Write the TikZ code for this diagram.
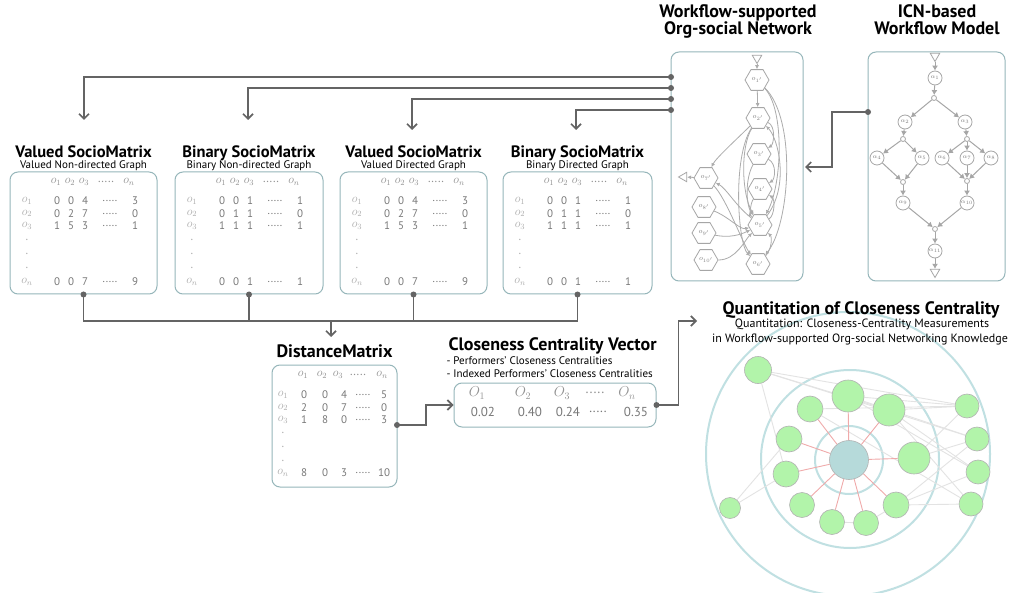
\documentclass[tikz,border=0pt]{standalone}
\usepackage{fontspec}
\setmainfont{PT Sans}
\usetikzlibrary{arrows.meta,shapes.geometric,positioning}

\definecolor{boxline}{RGB}{150,182,186}
\definecolor{wire}{RGB}{100,100,100}
\definecolor{ink}{RGB}{120,120,120}
\definecolor{ring}{RGB}{192,224,226}
\definecolor{leaf}{RGB}{178,244,170}
\definecolor{hub}{RGB}{182,218,218}
\definecolor{redtie}{RGB}{240,170,170}

\pgfdeclarelayer{background}
\pgfsetlayers{background,main}

\newcommand{\mdots}{.....}
% one socio matrix body: left edge, then the rows o_1, o_2, o_3, o_n
\newcommand{\socio}[5]{%
  \foreach \t/\x in {{$o_1$}/46,{$o_2$}/60,{$o_3$}/74,\mdots/96,{$o_n$}/119}
    \node[hdr] at ({#1+\x},182) {\t};
  \foreach \lab/\y/\a/\b/\c/\d in {1/201/#2,2/213.5/#3,3/226/#4,n/282/#5} {
    \node[rowlab] at ({#1+17},\y) {$o_{\lab}$};
    \node[num] at ({#1+47},\y) {\a};
    \node[num] at ({#1+61},\y) {\b};
    \node[num] at ({#1+75},\y) {\c};
    \node[num] at ({#1+100},\y) {\mdots};
    \node[num] at ({#1+125},\y) {\d};
  }
  \foreach \y in {240,254,268}
    \node[rowlab] at ({#1+17},\y) {.};
}

\begin{document}
\begin{tikzpicture}[x=1pt,y=-1pt,
  mbox/.style={draw=boxline,line width=1pt,rounded corners=8pt,fill=white},
  title/.style={font=\bfseries\fontsize{18}{20}\selectfont,anchor=base},
  mtitle/.style={title,font=\bfseries\fontsize{16.5}{18}\selectfont},
  subt/.style={font=\fontsize{11}{12}\selectfont,anchor=base},
  hdr/.style={text=ink!80,font=\fontsize{12}{12}\selectfont,inner sep=0},
  rowlab/.style={text=ink!60,font=\fontsize{12}{12}\selectfont,inner sep=0},
  num/.style={text=ink,font=\fontsize{11}{11}\selectfont,inner sep=0},
  wire/.style={draw=wire,line width=1.7pt},
  flow/.style={wire,-{Straight Barb[length=5pt,width=10pt]}},
  dot/.style={circle,fill=wire,inner sep=0,minimum size=6pt},
  perf/.style={regular polygon,regular polygon sides=6,draw=gray!70,line width=0.8pt,
    minimum size=24pt,inner sep=0,text=gray,font=\fontsize{7}{7}\selectfont},
  act/.style={circle,draw=gray!70,line width=0.8pt,minimum size=14pt,inner sep=0,
    text=gray,font=\fontsize{6}{6}\selectfont},
  gate/.style={circle,draw=gray!70,line width=0.8pt,minimum size=5pt,inner sep=0},
  term/.style={regular polygon,regular polygon sides=3,draw=gray!70,line width=0.8pt,
    minimum size=11pt,inner sep=0},
  tie/.style={draw=gray!65,line width=0.8pt,-{Latex[length=4pt,width=4pt]}},
  link/.style={draw=gray!70,line width=1pt,-{Latex[length=5pt,width=6pt]}},
  leaf/.style={circle,fill=leaf,draw=gray!60,line width=0.6pt,inner sep=0},
  ringline/.style={draw=ring,line width=2pt},
  redline/.style={draw=redtie,line width=0.9pt},
  greyline/.style={draw=gray!22,line width=0.9pt}
]
  \useasboundingbox (0,0) rectangle (1014,593);
  \begin{pgfonlayer}{background}
    \fill[white] (0,0) rectangle (1014,593);
  \end{pgfonlayer}

  % ---- four socio matrices
  \node[mbox,minimum width=147pt,minimum height=122pt] (vm) at (83.5,233) {};
  \node[mbox,minimum width=148pt,minimum height=122pt] (bm) at (249,233) {};
  \node[mbox,minimum width=147pt,minimum height=122pt] (vd) at (413.5,233) {};
  \node[mbox,minimum width=149pt,minimum height=122pt] (bd) at (577.5,233) {};
  \node[mtitle] (vmt) at (83.5,158) {Valued SocioMatrix};
  \node[subt] (vms) at (83.5,168.5) {Valued Non-directed Graph};
  \node[mtitle] (bmt) at (249,158) {Binary SocioMatrix};
  \node[subt] (bms) at (249,168.5) {Binary Non-directed Graph};
  \node[mtitle] (vdt) at (413.5,158) {Valued SocioMatrix};
  \node[subt] (vds) at (413.5,168.5) {Valued Directed Graph};
  \node[mtitle] (bdt) at (577.5,158) {Binary SocioMatrix};
  \node[subt] (bds) at (577.5,168.5) {Binary Directed Graph};
  \socio{10}{0/0/4/3}{0/2/7/0}{1/5/3/1}{0/0/7/9}
  \socio{175}{0/0/1/1}{0/1/1/0}{1/1/1/1}{0/0/1/1}
  \socio{340}{0/0/4/3}{0/2/7/0}{1/5/3/1}{0/0/7/9}
  \socio{503}{0/0/1/1}{0/1/1/0}{1/1/1/1}{0/0/1/1}

  % ---- workflow-supported org-social network
  \node[mbox,minimum width=132pt,minimum height=229pt] (wf) at (737,166.5) {};
  \node[title] (wft1) at (738,18) {Workflow-supported};
  \node[title] (wft2) at (738,35) {Org-social Network};
  \node[term,shape border rotate=180] (src) at (757,58) {};
  \node[term,shape border rotate=90] (snk) at (684,177) {};
  \foreach \n/\x/\y in {1/757/80,2/758/118,3/759/154,4/760/189,5/760/225,6/758/264,
                        7/706/178,8/704/207,9/704/233,10/706/260}
    \node[perf] (p\n) at (\x,\y) {$o_{\n'}$};
  \draw[tie] (src) -- (p1);
  \draw[tie] (p1) -- (p2);
  \draw[tie] (p1) .. controls +(28,30) and +(22,-40) .. (p5);
  \draw[tie] (p1) .. controls +(40,40) and +(32,-40) .. (p6);
  \draw[tie] (p2) .. controls +(18,8) and +(15,-10) .. (p3);
  \draw[tie] (p2) .. controls +(-20,20) and +(10,-20) .. (p7);
  \draw[tie] (p2) .. controls +(-18,30) and +(-18,-30) .. (p5);
  \draw[tie] (p2) .. controls +(-26,40) and +(-20,-20) .. (p6);
  \draw[tie] (p3) .. controls +(18,10) and +(15,-10) .. (p4);
  \draw[tie] (p3) .. controls +(-14,25) and +(-14,-20) .. (p5);
  \draw[tie] (p4) .. controls +(-10,15) and +(-10,-10) .. (p5);
  \draw[tie] (p5) .. controls +(30,-40) and +(20,20) .. (p2);
  \draw[tie] (p5) .. controls +(15,-10) and +(15,10) .. (p4);
  \draw[tie] (p5) .. controls +(-25,-20) and +(20,10) .. (p7);
  \draw[tie] (p8) .. controls +(25,10) and +(-20,5) .. (p5);
  \draw[tie] (p9) .. controls +(25,5) and +(-20,10) .. (p5);
  \draw[tie] (p10) .. controls +(30,0) and +(-15,15) .. (p5);
  \draw[tie] (p7) .. controls +(20,20) and +(-15,-20) .. (p6);
  \draw[tie] (p6) .. controls +(14,-15) and +(12,12) .. (p5);
  \draw[tie] (p7) -- (snk);

  % ---- ICN-based workflow model
  \node[mbox,minimum width=137pt,minimum height=229pt] (icn) at (936.5,166.5) {};
  \node[title] (icnt1) at (937,18) {ICN-based};
  \node[title] (icnt2) at (937,35) {Workflow Model};
  \node[term,shape border rotate=180] (ist) at (935,56) {};
  \node[term,shape border rotate=180] (ien) at (935,272) {};
  \foreach \n/\x/\y in {1/935/78,2/905/122,3/965/122,4/877/158,5/922/158,6/942/158,
                        7/967/158,8/991/158,9/903/203,10/967/203,11/935/251}
    \node[act] (a\n) at (\x,\y) {$\alpha_{\n}$};
  \foreach \n/\x/\y in {1/934/98,2/903/139,3/967/139,4/903/182,5/967/181,6/935/229}
    \node[gate] (g\n) at (\x,\y) {};
  \foreach \u/\v in {ist/a1,a1/g1,g1/a2,g1/a3,a2/g2,a3/g3,g2/a4,g2/a5,g3/a6,g3/a7,g3/a8,
                     a4/g4,a5/g4,a6/g5,a7/g5,a8/g5,g4/a9,g5/a10,a9/g6,a10/g6,g6/a11,a11/ien}
    \draw[link] (\u) -- (\v);

  % ---- connectors at the top
  \foreach \n/\y in {a/77,b/88,c/99,d/110}
    \node[dot] (wf\n) at (671,\y) {};
  \coordinate (vmin) at (84,120);
  \coordinate (bmin) at (248,120);
  \coordinate (vdin) at (412,130);
  \coordinate (bdin) at (576,130);
  \draw[flow] (wfa.center) -| (vmin);
  \draw[flow] (wfb.center) -| (bmin);
  \draw[flow] (wfc.center) -| (vdin);
  \draw[flow] (wfd.center) -| (bdin);
  \node[dot] (icno) at (868,112) {};
  \coordinate (wfin) at (805,167);
  \draw[flow] (icno.center) -- ++(-36,0) |- (wfin);

  % ---- bus under the matrices
  \foreach \m in {vm,bm,vd,bd}
    \node[dot] (\m o) at (\m.south) {};
  \coordinate (bus) at (331,321);
  \draw[wire] (vmo.center) -- (vmo.center |- bus) -- (bdo.center |- bus) -- (bdo.center);
  \draw[wire] (bmo.center) -- (bmo.center |- bus);
  \draw[wire] (vdo.center) -- (vdo.center |- bus);
  \coordinate (dmin) at (331,337);
  \draw[flow] (bus) -- (dmin);

  % ---- distance matrix
  \node[title] (dmt) at (334.5,357) {DistanceMatrix};
  \node[mbox,minimum width=125pt,minimum height=122pt] (dm) at (334.5,426) {};
  \foreach \t/\x in {{$o_1$}/303,{$o_2$}/322,{$o_3$}/338,\mdots/358,{$o_n$}/382}
    \node[hdr] at (\x,375) {\t};
  \foreach \lab/\y/\a/\b/\c/\d in {1/395/0/0/4/5,2/407.5/2/0/7/0,3/420/1/8/0/3,n/473/8/0/3/10} {
    \node[rowlab] at (283,\y) {$o_{\lab}$};
    \node[num] at (304,\y) {\a};
    \node[num] at (325,\y) {\b};
    \node[num] at (344,\y) {\c};
    \node[num] at (363,\y) {\mdots};
    \node[num] at (384,\y) {\d};
  }
  \foreach \y in {433,447,461}
    \node[rowlab] at (283,\y) {.};

  % ---- closeness centrality vector
  \node[title,anchor=base west] (cvt) at (445,351) {Closeness Centrality Vector};
  \node[subt,anchor=base west] (cvs1) at (443,364) {- Performers' Closeness Centralities};
  \node[subt,anchor=base west] (cvs2) at (443,377) {- Indexed Performers' Closeness Centralities};
  \node[mbox,minimum width=202pt,minimum height=44pt] (cv) at (555,405) {};
  \foreach \t/\x in {{$O_1$}/477,{$O_2$}/523,{$O_3$}/562,\mdots/595,{$O_n$}/627}
    \node[hdr,font=\fontsize{14}{14}\selectfont] at (\x,393) {\t};
  \foreach \t/\x in {0.02/483,0.40/530,0.24/568,\mdots/598,0.35/636}
    \node[num,font=\fontsize{13}{13}\selectfont] at (\x,412) {\t};

  \node[dot] (dmo) at (397,425) {};
  \draw[flow] (dmo.center) -- ++(29,0) |- (cv.west);
  \node[dot] (cvo) at (cv.east) {};
  \coordinate (qin) at (697,321);
  \draw[flow] (cvo.center) -- ++(22,0) |- (qin);

  % ---- quantitation of closeness centrality
  \foreach \n/\x/\y/\d in {1/758/370/27,2/848/396/32,3/810/409/26,4/889/410/32,5/967/406/24,
      6/789/439/26,7/914/458/32,8/977/439/24,9/786/474/26,10/978/472/24,11/730/508/21,
      12/802/505/25,13/896/505/26,14/971/504/24,15/832/522/25,16/866/523/25}
    \node[leaf,minimum size=\d pt] (q\n) at (\x,\y) {};
  \node[leaf,fill=hub,minimum size=39pt] (qc) at (849,460) {};
  \begin{pgfonlayer}{background}
    \draw[ringline] (848,454) circle (142);
    \draw[ringline] (850,459) circle (89);
    \draw[ringline] (qc.center) circle (34);
    \foreach \u/\v in {1/4,1/5,1/8,1/9,11/6,11/9,2/5,2/8,2/10,3/5,3/14,4/5,4/10,4/14,
                       7/5,7/8,13/10,13/14,13/8,15/16,16/13}
      \draw[greyline] (q\u) -- (q\v);
    \foreach \v in {2,3,4,6,7,9,12,13,15,16}
      \draw[redline] (qc) -- (q\v);
  \end{pgfonlayer}
  \node[title] (qt) at (861,315) {Quantitation of Closeness Centrality};
  \node[subt,font=\fontsize{12}{13}\selectfont] (qs1) at (862,328) {Quantitation: Closeness-Centrality Measurements};
  \node[subt,font=\fontsize{12}{13}\selectfont] (qs2) at (860,342) {in Workflow-supported Org-social Networking Knowledge};
\end{tikzpicture}
\end{document}
